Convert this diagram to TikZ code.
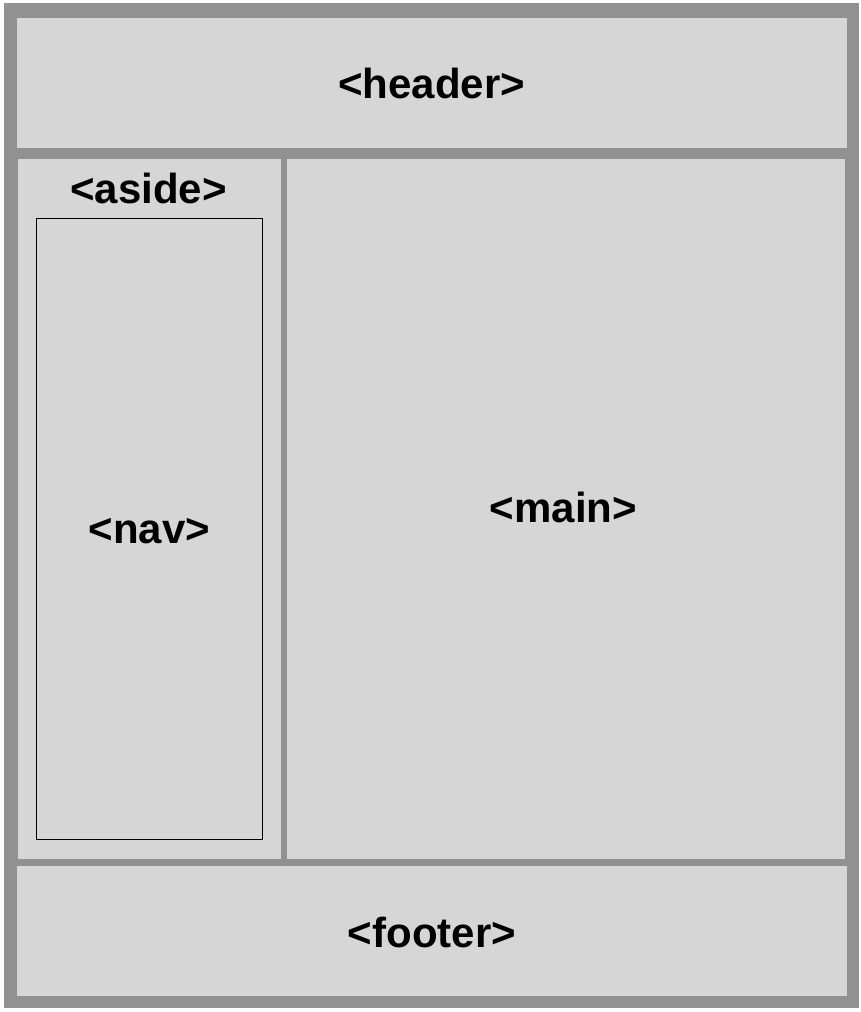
\documentclass[tikz,border=0pt]{standalone}
\usepackage{fontspec}
\setmainfont{Liberation Sans}
\definecolor{frame}{RGB}{145,145,145}
\definecolor{panel}{RGB}{214,214,214}
\begin{document}
\begin{tikzpicture}[x=1pt,y=-1pt,
  panelbox/.style={fill=panel,draw=none,inner sep=0pt,minimum width=#1},
  lbl/.style={anchor=base,inner sep=0pt,font=\fontsize{42}{50}\selectfont\bfseries}]
\useasboundingbox (0,0) rectangle (860,1012);
\fill[white] (0,0) rectangle (860,1012);
\node[fill=frame,inner sep=0pt,minimum width=855pt,minimum height=1005pt] (outer) at (431.5,505.5) {};
\node[panelbox=830pt,minimum height=130pt] (header) at (432,83) {};
\node[panelbox=263pt,minimum height=700pt] (aside) at (149.5,509) {};
\node[panelbox=558pt,minimum height=700pt] (main) at (566,509) {};
\node[panelbox=830pt,minimum height=130pt] (footer) at (432,931) {};
\node[draw=black,line width=1pt,fill=none,inner sep=0pt,minimum width=226pt,minimum height=621pt] (nav) at (149.5,528.8) {};
\node[lbl] (headerlbl) at (431.5,98) {<header>};
\node[lbl] (asidelbl) at (148.5,203) {<aside>};
\node[lbl] (navlbl) at (149.5,543) {<nav>};
\node[lbl] (mainlbl) at (563.5,522) {<main>};
\node[lbl] (footerlbl) at (432,947) {<footer>};
\end{tikzpicture}
\end{document}
